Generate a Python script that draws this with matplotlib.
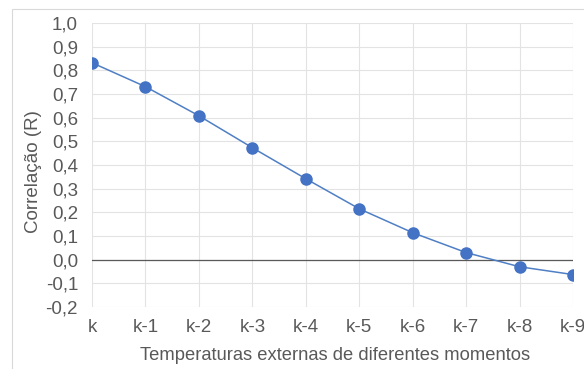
import matplotlib
matplotlib.use("Agg")
import matplotlib.pyplot as plt
import numpy as np
from matplotlib.patches import Rectangle

categories = ["k", "k-1", "k-2", "k-3", "k-4", "k-5", "k-6", "k-7", "k-8", "k-9"]
values = [0.832, 0.731, 0.608, 0.473, 0.342, 0.215, 0.114, 0.030, -0.030, -0.063]
yticks = [-0.2, -0.1, 0.0, 0.1, 0.2, 0.3, 0.4, 0.5, 0.6, 0.7, 0.8, 0.9, 1.0]
ytick_labels = [f"{v:.1f}".replace(".", ",") for v in yticks]

plt.rcParams['font.family'] = ['Liberation Sans', 'DejaVu Sans']
gray = "#595959"

fig = plt.figure(figsize=(5.84, 3.69), dpi=100)
fig.patches.append(Rectangle((12/584, -0.01), 1.0, 1 - 9/369 + 0.01, transform=fig.transFigure,
                             fill=False, edgecolor="#D9D9D9", lw=0.8))
ax = fig.add_axes([92/584, 1 - 307/369, (573 - 92)/584, (307 - 23)/369])

x = np.arange(len(categories))
ax.plot(x, values, color="#4F7FC4", lw=1.1, marker="o", markersize=8,
        markerfacecolor="#4472C4", markeredgecolor="#4472C4", zorder=3)
ax.axhline(0, color=gray, lw=0.9, zorder=2)

ax.set_xlim(0, len(categories) - 1)
ax.set_ylim(-0.2, 1.0)
ax.set_yticks(yticks)
ax.set_yticklabels(ytick_labels)
ax.set_xticks(x)
ax.set_xticklabels(categories)
ax.grid(True, color="#E3E3E3", lw=0.8)
ax.set_axisbelow(True)
for s in ax.spines.values():
    s.set_visible(False)
ax.tick_params(length=0, labelsize=13.5, colors=gray)
ax.tick_params(axis="x", pad=9)
ax.tick_params(axis="y", pad=10)
ax.set_xlabel("Temperaturas externas de diferentes momentos", fontsize=13.2, color=gray)
ax.set_ylabel("Correlação (R)", fontsize=13.5, color=gray)
ax.xaxis.set_label_coords(0.5 + 3/481, -(355 - 307)/284, transform=ax.transAxes)
ax.xaxis.label.set_va("center")
ax.yaxis.set_label_coords(-(92 - 34)/481, (307 - 172)/284, transform=ax.transAxes)
ax.yaxis.label.set_va("center")

fig.savefig("out.png", dpi=100)
